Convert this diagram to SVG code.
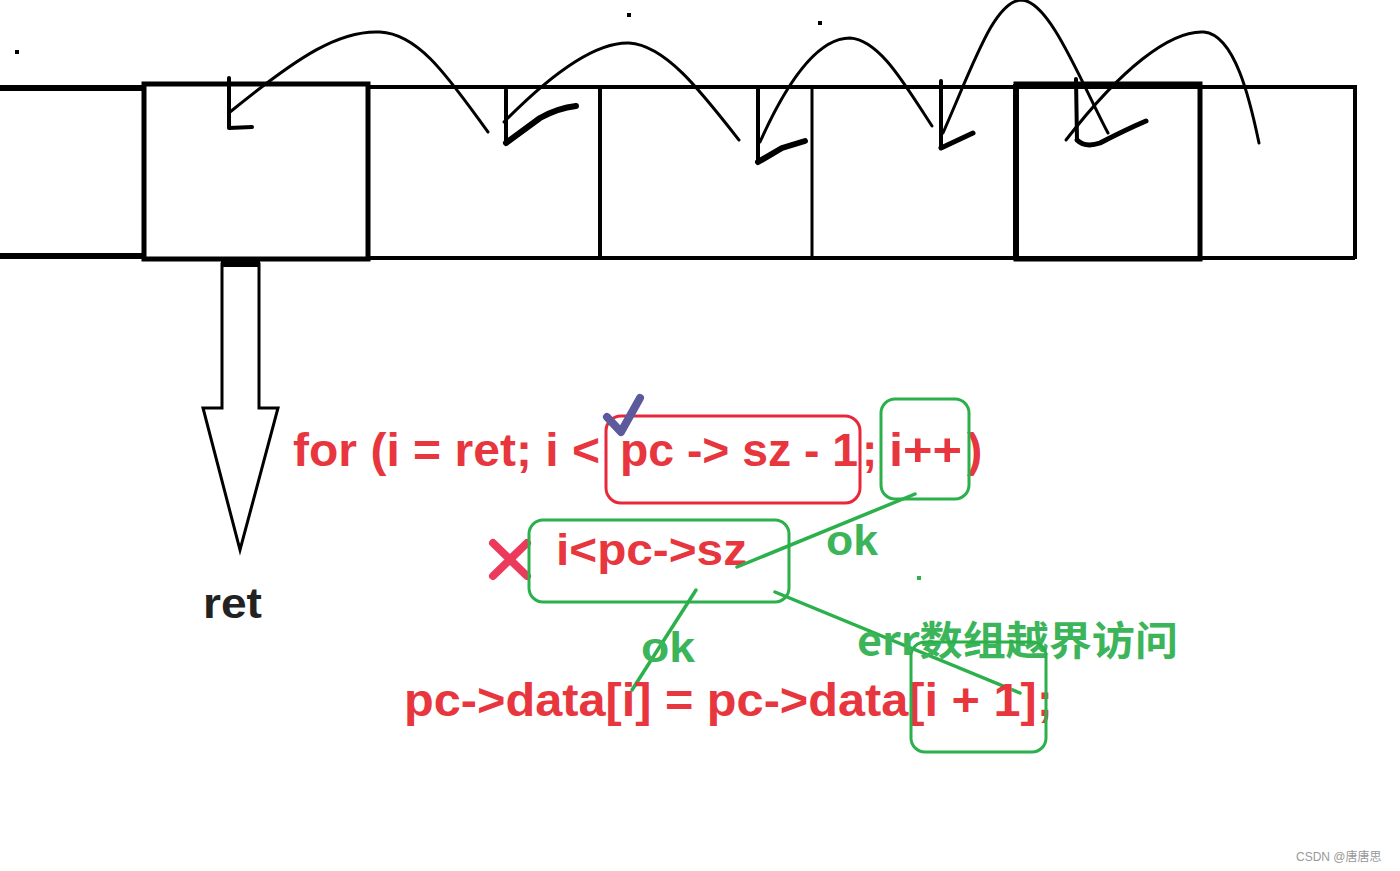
<svg xmlns="http://www.w3.org/2000/svg" width="1400" height="871" viewBox="0 0 1400 871">
<style>
.ink{fill:none;stroke:#000;stroke-linecap:round;stroke-linejoin:round}
.red{fill:#e8363e;font-family:"Liberation Sans","Noto Sans CJK SC",sans-serif;font-weight:bold}
.grn{fill:#3cb55a;font-family:"Liberation Sans","Noto Sans CJK SC",sans-serif;font-weight:bold}
.gcjk{fill:#3cb55a;font-family:"Noto Sans CJK SC",sans-serif;font-weight:bold}
.gbox{fill:none;stroke:#2bb04c;stroke-width:3}
.gline{stroke:#2bb04c;stroke-width:3.5;stroke-linecap:round}
</style>
<rect width="1400" height="871" fill="#fff"/>
<g id="array">
  <line x1="0" y1="88" x2="146" y2="88" stroke="#000" stroke-width="6"/>
  <line x1="0" y1="256" x2="146" y2="256" stroke="#000" stroke-width="6"/>
  <rect x="144" y="84" width="224" height="175" fill="none" stroke="#000" stroke-width="5"/>
  <line x1="368" y1="87" x2="1355" y2="87" stroke="#000" stroke-width="4"/>
  <line x1="368" y1="258" x2="1355" y2="258" stroke="#000" stroke-width="4"/>
  <line x1="600" y1="87" x2="600" y2="258" stroke="#000" stroke-width="4"/>
  <line x1="812" y1="87" x2="812" y2="258" stroke="#000" stroke-width="3"/>
  <rect x="1016" y="84" width="184" height="175" fill="none" stroke="#000" stroke-width="5"/>
  <line x1="1016" y1="84" x2="1016" y2="259" stroke="#000" stroke-width="6"/>
  <line x1="1355" y1="85" x2="1355" y2="259" stroke="#000" stroke-width="4"/>
</g>
<g id="jumps">
  <path class="ink" stroke-width="3" d="M230,112 C300,55 340,30 380,32 C420,34 450,80 488,132"/>
  <path class="ink" stroke-width="4" d="M229,78 L229,128 L252,127"/>
  <path class="ink" stroke-width="3" d="M504,122 C560,65 600,42 629,43 C665,45 700,90 739,140"/>
  <path class="ink" stroke-width="4" d="M506,90 L506,143"/>
  <path class="ink" stroke-width="6" d="M506,143 L540,118 Q558,108 576,106"/>
  <path class="ink" stroke-width="3" d="M760,142 C790,75 820,38 850,38 C880,40 905,85 932,126"/>
  <path class="ink" stroke-width="4" d="M758,88 L758,162"/>
  <path class="ink" stroke-width="6" d="M758,162 L782,148 L805,141"/>
  <path class="ink" stroke-width="3" d="M943,133 C975,60 995,0 1022,0 C1050,2 1080,80 1108,133"/>
  <path class="ink" stroke-width="4" d="M941,81 L941,148"/>
  <path class="ink" stroke-width="5" d="M941,148 L973,133"/>
  <path class="ink" stroke-width="3" d="M1066,140 C1120,70 1170,30 1204,32 C1235,35 1250,100 1259,143"/>
  <path class="ink" stroke-width="4" d="M1076,79 L1077,140"/>
  <path class="ink" stroke-width="5" d="M1077,140 Q1085,148 1100,143 Q1125,130 1146,121"/>
  <rect x="15" y="50" width="4" height="4" fill="#000"/>
  <rect x="627" y="13" width="4" height="4" fill="#000"/>
  <rect x="818" y="21" width="4" height="4" fill="#000"/>
</g>
<g id="ret-arrow">
  <path d="M222,264 L222,408 L203,408 L240,550 L278,408 L259,408 L259,264 Z" fill="#fff" stroke="#000" stroke-width="3" stroke-linejoin="miter"/>
  <rect x="221" y="260" width="39" height="7" fill="#000"/>
  <text x="203" y="618" font-family="Liberation Sans, sans-serif" font-weight="bold" font-size="42" fill="#222" textLength="59" lengthAdjust="spacingAndGlyphs">ret</text>
</g>
<g id="for-line">
  <text class="red" x="293" y="466" font-size="46" textLength="307" lengthAdjust="spacingAndGlyphs">for (i = ret; i &lt;</text>
  <text class="red" x="620" y="466" font-size="46" textLength="238" lengthAdjust="spacingAndGlyphs">pc -&gt; sz - 1</text>
  <text class="red" x="862" y="466" font-size="46">;</text>
  <text class="red" x="889" y="466" font-size="46" textLength="73" lengthAdjust="spacingAndGlyphs">i++</text>
  <text class="red" x="967" y="466" font-size="46">)</text>
  <rect x="606" y="416" width="254" height="87" rx="15" fill="none" stroke="#e8283a" stroke-width="3"/>
  <rect class="gbox" x="881" y="399" width="88" height="100" rx="14"/>
  <path d="M607,417 L621,432 L640,398" fill="none" stroke="#5c5a9c" stroke-width="8" stroke-linecap="round" stroke-linejoin="round"/>
</g>
<g id="cond">
  <path d="M493,543 L527,576 M527,543 L493,576" stroke="#ec3a5c" stroke-width="8" stroke-linecap="round"/>
  <text class="red" x="556" y="565" font-size="44" textLength="191" lengthAdjust="spacingAndGlyphs">i&lt;pc-&gt;sz</text>
  <rect class="gbox" x="529" y="520" width="260" height="82" rx="14"/>
</g>
<g id="connectors">
  <line class="gline" x1="737" y1="567" x2="915" y2="494"/>
  <line class="gline" x1="696" y1="590" x2="632" y2="690"/>
  <line class="gline" x1="775" y1="592" x2="1020" y2="693"/>
  <rect x="917" y="576" width="4" height="4" fill="#2bb04c"/>
</g>
<g id="labels">
  <text class="grn" x="826" y="555" font-size="42" textLength="52" lengthAdjust="spacingAndGlyphs">ok</text>
  <text class="grn" x="641" y="662" font-size="42" textLength="54" lengthAdjust="spacingAndGlyphs">ok</text>
  <text class="gcjk" x="857" y="655" font-size="40" textLength="321" lengthAdjust="spacingAndGlyphs">err数组越界访问</text>
</g>
<g id="assign">
  <text class="red" x="404" y="716" font-size="46" textLength="649" lengthAdjust="spacingAndGlyphs">pc-&gt;data[i] = pc-&gt;data[i + 1];</text>
  <rect class="gbox" x="911" y="642" width="135" height="110" rx="14"/>
</g>
<text x="1296" y="861" font-family="Liberation Sans, Noto Sans CJK SC, sans-serif" font-size="12" fill="#999">CSDN @唐唐思</text>
</svg>
